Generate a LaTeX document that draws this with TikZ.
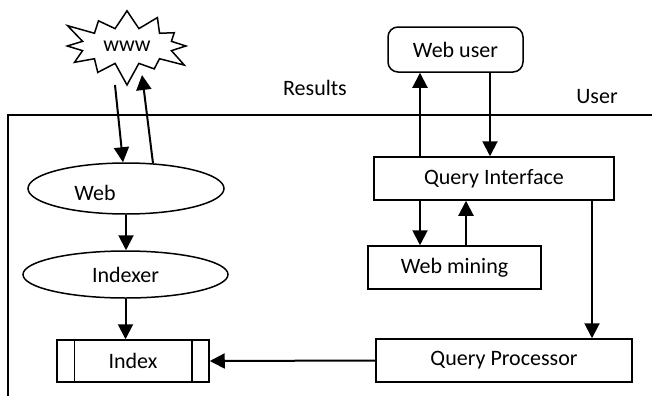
\documentclass[tikz,border=0pt]{standalone}
\usepackage{fontspec}
\setmainfont{Carlito}
\usetikzlibrary{shapes.geometric, shapes.symbols, arrows.meta, positioning, calc}
\tikzset{
  box/.style={rectangle, draw=black, line width=0.75pt, inner sep=0pt,
              minimum height=21.5pt},
  boxR/.style={box, rounded corners=5pt, minimum height=22.5pt},
  oval/.style={ellipse, draw=black, line width=0.75pt, inner sep=0pt},
  cloud/.style={starburst, draw=black, line width=0.75pt, inner sep=0pt,
                starburst points=12, starburst point height=12pt},
  arrow/.style={-{Triangle[length=7.5pt, width=7.5pt]}, line width=1pt},
  frame/.style={line width=0.75pt},
}

\begin{document}
\begin{tikzpicture}[x=0.5pt, y=-0.5pt, font=\fontsize{11}{13}\selectfont]
  \useasboundingbox (0,0) rectangle (652,396);

  % --- Nodes ---
  \node[cloud, minimum width=70pt, minimum height=42pt] (www) at (127,46) {www};

  \node[oval, minimum width=98pt, minimum height=25.5pt,
        label={[xshift=-15.5pt, yshift=-2pt]center:Web}] (web) at (126,188.5) {};
  \node[oval, minimum width=102.5pt, minimum height=23.5pt] (indexer) at (125.5,274.5) {Indexer};

  \node[box, minimum width=76pt, minimum height=21pt] (index) at (133,361) {Index};
  \draw[line width=0.75pt] ([xshift=9pt]index.north west) -- ([xshift=9pt]index.south west);
  \draw[line width=0.75pt] ([xshift=-9pt]index.north east) -- ([xshift=-9pt]index.south east);

  \node[boxR, minimum width=67.5pt] (webuser) at (455.5,49.5) {Web user};
  \node[box, minimum width=120pt] (qi) at (494,178.5) {\raisebox{-2pt}{Query Interface}};
  \node[box, minimum width=86.5pt] (mining) at (454.5,267.5) {\raisebox{-2pt}{Web mining}};
  \node[box, minimum width=128pt] (qp) at (504,360.5) {\raisebox{-2pt}{Query Processor}};

  % --- Frame and labels ---
  \draw[frame] (652,115) -- (8,115) -- (8,396);
  \node (results) at (315,88) {Results};
  \node (user) at (597,97) {User};

  % --- Edges ---
  \draw[arrow] ($(www.center)+(-12,39)$) -- ([xshift=-1.5pt]web.north);
  \draw[arrow] ([xshift=13.5pt,yshift=-0.5pt]web.north) -- ($(www.center)+(15,29)$);
  \draw[arrow] (web.south) -- (web.south |- indexer.north);
  \draw[arrow] (indexer.south) -- (indexer.south |- index.north);
  \draw[arrow] (qp.west) -- (index.east);

  \draw[arrow] ([xshift=-37pt]qi.north) -- ([xshift=-37pt]qi.north |- webuser.south);
  \draw[arrow] ([xshift=17.25pt]webuser.south) -- ([xshift=17.25pt]webuser.south |- qi.north);
  \draw[arrow] ([xshift=-37pt]qi.south) -- ([xshift=-37pt]qi.south |- mining.north);
  \draw[arrow] ([xshift=5.75pt]mining.north) -- ([xshift=5.75pt]mining.north |- qi.south);
  \draw[arrow] ([xshift=49pt]qi.south) -- ([xshift=49pt]qi.south |- qp.north);

\end{tikzpicture}
\end{document}
